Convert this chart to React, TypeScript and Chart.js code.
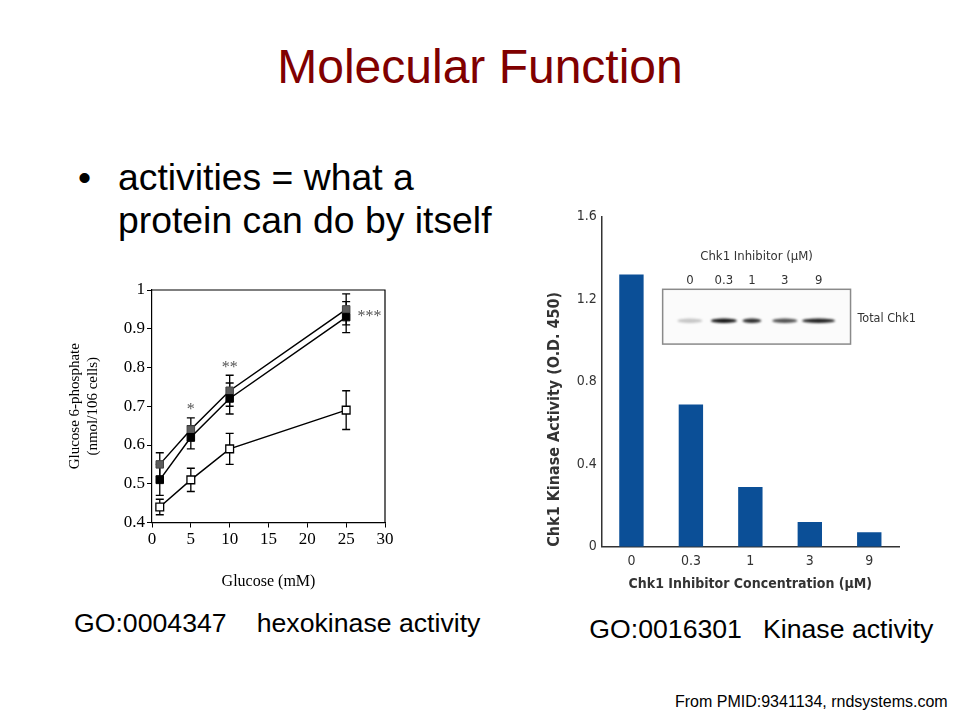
import React, { useEffect, useRef } from 'react';
import { Chart, registerables } from 'chart.js';

Chart.register(...registerables);

// ---------- Left chart data (hexokinase) ----------
const glucose = [1, 5, 10, 25];
const g6pGray = [0.55, 0.64, 0.74, 0.95];
const g6pGrayErr = [0.03, 0.03, 0.04, 0.04];
const g6pBlack = [0.51, 0.62, 0.72, 0.93];
const g6pBlackErr = [0.04, 0.03, 0.04, 0.04];
const g6pOpen = [0.44, 0.51, 0.59, 0.69];
const g6pOpenErr = [0.02, 0.03, 0.04, 0.05];
const sigMarks = ['*', '**', '***'];
const sigX = [5, 10, 28];
const sigY = [0.69, 0.8, 0.93];
const glucoseTicks = [0, 5, 10, 15, 20, 25, 30];
const g6pTicks = [0.4, 0.5, 0.6, 0.7, 0.8, 0.9, 1];

// ---------- Right chart data (Chk1 kinase) ----------
const inhibitorConc = ['0', '0.3', '1', '3', '9'];
const kinaseActivity = [1.32, 0.69, 0.29, 0.12, 0.07];
const blotIntensity = [0.22, 0.95, 0.85, 0.7, 0.9];
const activityTicks = [0, 0.4, 0.8, 1.2, 1.6];

const SERIF = "'Liberation Serif', 'DejaVu Serif', serif";
const COND = "'DejaVu Sans Condensed', 'Liberation Sans Narrow', Roboto, sans-serif";
const SANS = "'Liberation Sans', Arial, sans-serif";

const fmt = (v: number) => String(Math.round(v * 10) / 10);

const errorBarPlugin = {
  id: 'errorBars',
  beforeDatasetsDraw(chart: any) {
    const { ctx, scales } = chart;
    const x = scales.x;
    const y = scales.y;
    chart.data.datasets.forEach((ds: any) => {
      const err = ds.errors as number[] | undefined;
      if (!err) return;
      ctx.save();
      ctx.strokeStyle = '#000';
      ctx.lineWidth = 1.3;
      ds.data.forEach((pt: any, j: number) => {
        const px = x.getPixelForValue(pt.x);
        const top = y.getPixelForValue(pt.y + err[j]);
        const bot = y.getPixelForValue(pt.y - err[j]);
        ctx.beginPath();
        ctx.moveTo(px, top);
        ctx.lineTo(px, bot);
        ctx.moveTo(px - 4, top);
        ctx.lineTo(px + 4, top);
        ctx.moveTo(px - 4, bot);
        ctx.lineTo(px + 4, bot);
        ctx.stroke();
      });
      ctx.restore();
    });
  },
};

const frameAndMarksPlugin = {
  id: 'frameMarks',
  afterDatasetsDraw(chart: any) {
    const { ctx, chartArea, scales } = chart;
    ctx.save();
    ctx.strokeStyle = '#000';
    ctx.lineWidth = 1.2;
    ctx.beginPath();
    ctx.moveTo(chartArea.left, chartArea.top);
    ctx.lineTo(chartArea.right, chartArea.top);
    ctx.lineTo(chartArea.right, chartArea.bottom);
    ctx.stroke();
    ctx.fillStyle = '#555';
    ctx.font = `16px ${SERIF}`;
    ctx.textAlign = 'center';
    ctx.textBaseline = 'middle';
    sigMarks.forEach((m, i) => {
      ctx.fillText(m, scales.x.getPixelForValue(sigX[i]), scales.y.getPixelForValue(sigY[i]));
    });
    ctx.restore();
  },
};

const blotInsetPlugin = {
  id: 'blotInset',
  afterDraw(chart: any) {
    const { ctx, chartArea: ca } = chart;
    const w = ca.right - ca.left;
    const h = ca.bottom - ca.top;
    const bx = ca.left + 0.205 * w;
    const by = ca.top + 0.22 * h;
    const bw = 0.632 * w;
    const bh = 0.166 * h;
    const laneFrac = [0.145, 0.326, 0.475, 0.65, 0.83];
    const bandW = [25, 26, 19, 25, 33];
    ctx.save();
    ctx.fillStyle = '#fbfbfb';
    ctx.fillRect(bx, by, bw, bh);
    ctx.strokeStyle = '#8a8a8a';
    ctx.lineWidth = 1.5;
    ctx.strokeRect(bx, by, bw, bh);
    // bands
    ctx.filter = 'blur(1px)';
    blotIntensity.forEach((v, i) => {
      const cx = bx + laneFrac[i] * bw;
      const cy = by + 31.4;
      ctx.fillStyle = `rgba(10,10,10,${v})`;
      ctx.beginPath();
      ctx.ellipse(cx, cy, bandW[i] / 2, 2.2, 0, 0, Math.PI * 2);
      ctx.fill();
    });
    ctx.filter = 'none';
    // labels
    ctx.fillStyle = '#333';
    ctx.textBaseline = 'middle';
    ctx.textAlign = 'center';
    ctx.font = `13px ${COND}`;
    ctx.fillText('Chk1 Inhibitor (µM)', bx + bw / 2, by - 32.6);
    ctx.font = `13px ${COND}`;
    inhibitorConc.forEach((c, i) => {
      ctx.fillText(c, bx + laneFrac[i] * bw, by - 8.3);
    });
    ctx.font = `12.5px ${COND}`;
    ctx.textAlign = 'left';
    ctx.fillText('Total Chk1', bx + bw + 7, by + 29);
    ctx.restore();
  },
};

function HexokinaseChart() {
  const ref = useRef<HTMLCanvasElement | null>(null);
  useEffect(() => {
    if (!ref.current) return;
    const pts = (ys: number[]) => glucose.map((g, i) => ({ x: g, y: ys[i] }));
    const chart = new Chart(ref.current, {
      type: 'line',
      data: {
        datasets: [
          {
            data: pts(g6pOpen),
            errors: g6pOpenErr,
            borderColor: '#000',
            borderWidth: 1.5,
            pointStyle: 'rect',
            pointRadius: 5.5,
            pointBackgroundColor: '#fff',
            pointBorderColor: '#000',
            pointBorderWidth: 1.3,
            tension: 0,
            fill: false,
          } as any,
          {
            data: pts(g6pBlack),
            errors: g6pBlackErr,
            borderColor: '#000',
            borderWidth: 1.5,
            pointStyle: 'rect',
            pointRadius: 5.3,
            pointBackgroundColor: '#000',
            pointBorderColor: '#000',
            pointBorderWidth: 1,
            tension: 0,
            fill: false,
          } as any,
          {
            data: pts(g6pGray),
            errors: g6pGrayErr,
            borderColor: '#000',
            borderWidth: 1.5,
            pointStyle: 'rect',
            pointRadius: 5.3,
            pointBackgroundColor: '#5c5c5c',
            pointBorderColor: '#444',
            pointBorderWidth: 1,
            tension: 0,
            fill: false,
          } as any,
        ],
      },
      options: {
        animation: false,
        responsive: true,
        maintainAspectRatio: false,
        layout: { padding: { top: 20, right: 15, left: 0, bottom: 0 } },
        plugins: { legend: { display: false }, tooltip: { enabled: false } },
        scales: {
          x: {
            type: 'linear',
            min: glucoseTicks[0],
            max: glucoseTicks[glucoseTicks.length - 1],
            afterBuildTicks: (s: any) => {
              s.ticks = glucoseTicks.map((v) => ({ value: v }));
            },
            ticks: {
              color: '#000',
              font: { family: SERIF, size: 17 },
              padding: 2,
              maxRotation: 0,
              autoSkip: false,
            },
            grid: { drawOnChartArea: false, drawTicks: true, tickLength: 5, color: '#000' },
            border: { display: true, color: '#000', width: 1.2 },
            title: {
              display: true,
              text: 'Glucose (mM)',
              color: '#000',
              font: { family: SERIF, size: 16 },
              padding: { top: 0, bottom: 9 },
            },
            afterFit: (s: any) => {
              s.height = 77.5;
            },
          },
          y: {
            type: 'linear',
            min: g6pTicks[0],
            max: g6pTicks[g6pTicks.length - 1],
            afterBuildTicks: (s: any) => {
              s.ticks = g6pTicks.map((v) => ({ value: v }));
            },
            ticks: {
              color: '#000',
              font: { family: SERIF, size: 17 },
              padding: 2,
              autoSkip: false,
              callback: (v: any) => fmt(Number(v)),
            },
            grid: { drawOnChartArea: false, drawTicks: true, tickLength: 5, color: '#000' },
            border: { display: true, color: '#000', width: 1.2 },
            title: {
              display: true,
              text: ['Glucose 6-phosphate', '(nmol/106 cells)'],
              color: '#000',
              font: { family: SERIF, size: 15, lineHeight: 1.2 },
              padding: { top: 6, bottom: 0 },
            },
            afterFit: (s: any) => {
              s.width = 92;
            },
          },
        },
      } as any,
      plugins: [errorBarPlugin, frameAndMarksPlugin],
    });
    return () => chart.destroy();
  }, []);
  return (
    <div style={{ position: 'absolute', left: 60, top: 270, width: 340, height: 330 }}>
      <canvas ref={ref} />
    </div>
  );
}

function KinaseChart() {
  const ref = useRef<HTMLCanvasElement | null>(null);
  useEffect(() => {
    if (!ref.current) return;
    const chart = new Chart(ref.current, {
      type: 'bar',
      data: {
        labels: inhibitorConc,
        datasets: [
          {
            data: kinaseActivity,
            backgroundColor: '#0b4f97',
            borderWidth: 0,
            categoryPercentage: 1,
            barPercentage: 0.41,
          },
        ],
      },
      options: {
        animation: false,
        responsive: true,
        maintainAspectRatio: false,
        layout: { padding: { top: 16.7, right: 21, left: 0, bottom: 0 } },
        plugins: { legend: { display: false }, tooltip: { enabled: false } },
        scales: {
          x: {
            grid: { display: false, drawTicks: false },
            border: { display: true, color: '#333', width: 1.5 },
            ticks: { color: '#333', font: { family: COND, size: 14 }, padding: 6, maxRotation: 0 },
            title: {
              display: true,
              text: 'Chk1 Inhibitor Concentration (µM)',
              color: '#333',
              font: { family: COND, size: 14, weight: 'bold' },
              padding: { top: 0, bottom: 7.4 },
            },
            afterFit: (s: any) => {
              s.height = 53.3;
            },
          },
          y: {
            min: activityTicks[0],
            max: activityTicks[activityTicks.length - 1],
            afterBuildTicks: (s: any) => {
              s.ticks = activityTicks.map((v) => ({ value: v }));
            },
            grid: { display: false, drawTicks: false },
            border: { display: true, color: '#333', width: 1.5 },
            ticks: {
              color: '#333',
              font: { family: COND, size: 14 },
              padding: 5,
              callback: (v: any) => fmt(Number(v)),
            },
            title: {
              display: true,
              text: 'Chk1 Kinase Activity (O.D. 450)',
              align: 'start',
              color: '#333',
              font: { family: COND, size: 16, weight: 'bold' },
              padding: { top: 5.4, bottom: 0 },
            },
            afterFit: (s: any) => {
              s.width = 61.7;
            },
          },
        },
      } as any,
      plugins: [blotInsetPlugin],
    });
    return () => chart.destroy();
  }, []);
  return (
    <div style={{ position: 'absolute', left: 540, top: 200, width: 380, height: 400 }}>
      <canvas ref={ref} />
    </div>
  );
}

const textBase: React.CSSProperties = {
  position: 'absolute',
  fontFamily: SANS,
  whiteSpace: 'nowrap',
  lineHeight: 1,
  color: '#000',
};

export default function App() {
  return (
    <div
      style={{
        position: 'fixed',
        left: 0,
        top: 0,
        width: 960,
        height: 720,
        background: '#fff',
        overflow: 'hidden',
      }}
    >
      <div style={{ ...textBase, left: 0, top: 42.7, width: 960, textAlign: 'center', fontSize: 48, color: '#800000' }}>
        Molecular Function
      </div>
      <div style={{ ...textBase, left: 78, top: 159.4, fontSize: 37.33 }}>•</div>
      <div style={{ ...textBase, left: 118, top: 159.4, fontSize: 37.33 }}>activities = what a</div>
      <div style={{ ...textBase, left: 118, top: 202, fontSize: 37.33 }}>protein can do by itself</div>

      <HexokinaseChart />
      <KinaseChart />

      <div style={{ ...textBase, left: 74, top: 609.7, fontSize: 26.67 }}>GO:0004347</div>
      <div style={{ ...textBase, left: 256.7, top: 609.7, fontSize: 26.67 }}>hexokinase activity</div>
      <div style={{ ...textBase, left: 589.3, top: 615.7, fontSize: 26.67 }}>GO:0016301</div>
      <div style={{ ...textBase, left: 763, top: 615.7, fontSize: 26.67 }}>Kinase activity</div>
      <div style={{ ...textBase, left: 675, top: 693.5, fontSize: 16 }}>From PMID:9341134, rndsystems.com</div>
    </div>
  );
}
